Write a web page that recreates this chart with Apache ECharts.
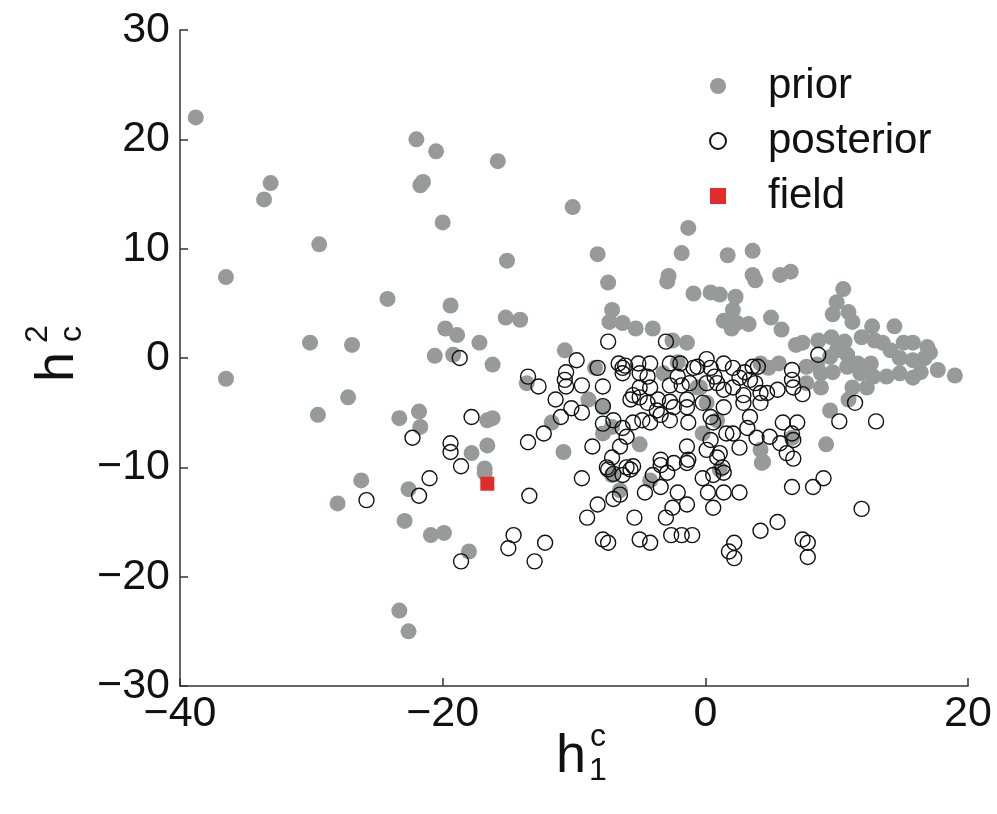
<!DOCTYPE html>
<html>
<head>
<meta charset="utf-8">
<script src="https://cdn.jsdelivr.net/npm/echarts@6/dist/echarts.min.js"></script>
<style>
  html, body { margin: 0; padding: 0; background: #fff; }
  #chart { width: 997px; height: 814px; }
</style>
</head>
<body>
<div id="chart"></div>
<script>
// prior samples (grey dots), [h1c, h2c]
const priorPoints = [
  [-38.8, 22.0], [-22.0, 20.0], [-20.5, 18.9], [-33.1, 16.0], [-33.6, 14.5],
  [-21.5, 16.1], [-21.7, 15.8], [-20.0, 12.4], [-29.4, 10.4], [-15.8, 18.0],
  [-10.1, 13.8], [-1.3, 11.9], [-15.1, 8.9], [-8.2, 9.5], [-1.8, 9.6],
  [-7.4, 6.9], [-2.8, 7.5], [-2.9, 7.0], [-0.9, 5.9], [0.4, 6.0],
  [1.7, 9.4], [3.6, 9.8], [3.6, 7.6], [3.8, 7.1], [5.7, 7.6],
  [6.5, 7.9], [1.1, 5.8], [2.3, 5.6], [2.1, 4.4], [10.5, 6.3],
  [10.0, 5.1], [9.7, 4.0], [10.9, 4.2], [11.2, 3.3], [1.4, 3.4],
  [2.0, 2.7], [3.3, 3.1], [2.4, 3.2], [5.0, 3.7], [5.8, 2.6],
  [7.4, 1.4], [8.6, 1.6], [9.6, 1.9], [10.6, 1.5], [10.0, 0.7],
  [10.8, 0.3], [9.5, 0.1], [11.9, 1.9], [12.7, 2.9], [14.4, 2.9],
  [12.9, 1.6], [13.5, 1.4], [14.1, 0.7], [15.1, 1.4], [15.8, 1.4],
  [16.9, 1.0], [14.8, 0.0], [15.8, -0.2], [16.7, 0.0], [17.1, 0.5],
  [17.7, -1.1], [19.0, -1.6], [7.7, -0.8], [8.5, -0.6], [8.8, -1.4],
  [9.7, -1.3], [10.8, -0.8], [11.6, -0.5], [12.6, -0.5], [11.8, -1.4],
  [12.8, -1.7], [13.8, -1.7], [14.8, -1.4], [15.8, -1.8], [16.4, -1.3],
  [8.8, -2.7], [7.7, -2.3], [11.2, -2.7], [12.3, -2.7], [10.9, -3.8],
  [9.5, -4.8], [9.2, -7.9], [4.2, -0.5], [5.6, -0.5], [4.8, -0.9],
  [-0.4, -2.7], [0.1, -4.1], [4.2, -8.4], [4.4, -9.5], [-36.5, 7.4],
  [-24.2, 5.4], [-19.4, 4.8], [-19.8, 2.7], [-30.1, 1.4], [-26.9, 1.2],
  [-20.6, 0.2], [-36.5, -1.9], [-27.2, -3.6], [-29.5, -5.2], [-23.3, -5.5],
  [-21.8, -4.9], [-21.7, -6.3], [-26.2, -11.2], [-28.0, -13.3], [-22.6, -12.0],
  [-22.9, -14.9], [-20.9, -16.2], [-19.9, -16.0], [-23.3, -23.1], [-22.6, -25.0],
  [-16.8, -10.5], [-18.0, -17.7], [-7.1, -10.7], [-6.5, -12.1], [-4.2, -11.2],
  [4.3, -9.6], [1.1, -10.2], [-15.2, 3.7], [-14.1, 3.5], [-7.1, 4.4],
  [-7.3, 3.3], [-6.3, 3.2], [-5.3, 2.7], [-4.0, 2.7], [-18.9, 2.1],
  [-17.2, 1.4], [-19.2, 0.3], [-16.2, -0.6], [-10.7, 0.7], [-2.5, 1.6],
  [-1.4, 1.4], [-8.4, -0.9], [-13.6, -2.3], [-8.9, -3.8], [-11.7, -5.9],
  [-10.8, -8.6], [-7.8, -4.5], [-3.2, -1.4], [-0.6, -2.7], [-7.8, -6.9],
  [-7.1, -6.3], [-5.0, -7.9], [-0.2, -6.9], [0.9, -5.7], [-16.6, -5.7],
  [-16.2, -5.5], [-17.8, -8.7], [-16.6, -8.0], [-16.8, -10.1], [-2.1, -0.4],
  [6.9, 1.2], [6.6, -7.3]
]

// posterior samples (open circles)
const posteriorPoints = [
  [-22.3, -7.3], [-19.4, -7.8], [-19.4, -8.6], [-21.0, -11.0], [-21.8, -12.6],
  [-25.8, -13.0], [-18.6, -9.9], [-13.4, -12.6], [-18.6, -18.6], [-14.6, -16.2],
  [-15.0, -17.4], [-12.2, -16.9], [-13.0, -18.6], [-9.4, -11.0], [-7.4, -10.2],
  [-7.0, -10.6], [-6.3, -10.7], [-5.7, -10.2], [-5.5, -9.9], [-8.2, -13.4],
  [-7.0, -12.9], [-6.5, -12.5], [-9.0, -14.6], [-5.4, -14.6], [-7.8, -16.6],
  [-7.4, -16.9], [-5.0, -16.6], [-4.2, -16.9], [-4.6, -12.3], [-4.0, -10.7],
  [-3.4, -11.8], [-2.9, -10.5], [-3.4, -9.8], [-2.1, -12.3], [-1.4, -13.4],
  [-2.5, -13.7], [-3.0, -14.6], [-2.6, -16.2], [-1.8, -16.2], [-1.0, -16.2],
  [-1.4, -9.6], [-0.2, -11.0], [0.6, -10.7], [0.2, -12.3], [0.6, -13.7],
  [9.0, -11.0], [8.2, -11.8], [6.6, -11.8], [11.9, -13.8], [5.5, -15.0],
  [4.2, -15.8], [2.2, -16.9], [1.8, -17.7], [2.2, -18.3], [7.4, -16.6],
  [7.8, -16.9], [7.8, -18.2], [1.4, -12.3], [2.6, -12.3], [1.4, -10.5],
  [-18.7, 0.0], [-7.4, 1.5], [-3.0, 1.5], [-9.8, -0.2], [-8.2, -0.9],
  [-10.6, -1.3], [-10.7, -2.0], [-10.6, -2.6], [-9.4, -2.5], [-13.5, -1.7],
  [-12.7, -2.6], [-11.4, -3.8], [-10.2, -4.6], [-9.4, -5.0], [-11.0, -5.4],
  [-12.3, -6.9], [-13.5, -7.7], [-7.8, -2.6], [-7.8, -4.4], [-6.6, -0.5],
  [-6.3, -0.9], [-6.1, -0.7], [-6.3, -1.4], [-5.1, -0.5], [-4.2, -0.5],
  [-5.0, -1.4], [-4.4, -1.7], [-5.0, -2.7], [-4.2, -2.7], [-2.7, -0.5],
  [-1.9, -0.5], [-2.1, -1.7], [-2.7, -2.5], [-1.8, -2.5], [0.1, -0.1],
  [-0.6, -0.8], [0.4, -0.9], [-5.7, -3.8], [-5.0, -3.6], [-4.4, -4.1],
  [-3.6, -3.8], [-2.7, -4.0], [-1.4, -3.8], [-0.2, -4.1], [-7.0, -5.7],
  [-6.3, -6.4], [-5.5, -5.9], [-4.8, -5.7], [-4.2, -5.9], [-6.0, -7.2],
  [-6.5, -8.1], [-8.6, -8.1], [-7.1, -9.1], [-7.5, -10.0], [-6.0, -10.0],
  [-3.4, -5.2], [-2.4, -4.5], [-1.4, -4.5], [-1.3, -5.9], [-1.4, -8.1],
  [-1.3, -9.3], [-2.4, -9.6], [-3.4, -9.3], [0.4, -5.4], [0.4, -7.5],
  [0.1, -8.4], [0.9, -9.1], [-17.8, -5.4], [8.6, 0.3], [11.4, -4.1],
  [10.2, -5.8], [13.0, -5.8], [1.4, -0.5], [2.1, -0.9], [3.0, -1.3],
  [3.6, -0.8], [4.0, -0.8], [0.1, -2.3], [0.9, -2.3], [1.4, -2.9],
  [2.1, -2.7], [2.6, -1.8], [3.4, -2.0], [3.8, -2.3], [4.2, -3.2],
  [2.9, -3.4], [4.7, -3.2], [5.5, -2.9], [6.6, -1.1], [6.6, -2.0],
  [6.7, -2.7], [7.4, -3.3], [1.4, -4.5], [2.9, -4.1], [4.2, -4.1],
  [3.4, -5.4], [0.6, -5.9], [1.6, -6.9], [2.1, -6.9], [3.2, -6.4],
  [2.6, -8.2], [3.9, -7.3], [4.9, -7.2], [5.9, -5.9], [7.0, -5.9],
  [6.6, -6.9], [6.7, -7.5], [5.7, -7.8], [6.2, -8.7], [6.7, -9.2],
  [1.1, -8.7], [1.3, -10.0], [-0.9, -0.9], [0.7, -1.7], [-1.2, -2.3],
  [-5.5, -3.4], [-3.7, -4.8], [-2.7, -5.7], [-7.8, -6.0]
]

// field observation (red square)
const fieldPoints = [[-16.6, -11.5]]

const seriesNames = ['prior', 'posterior', 'field']
const xRange = [-40, 20]
const yRange = [-30, 30]

const FONT = '"Liberation Sans", Arial, sans-serif'
const minus = v => String(v).replace('-', '\u2212')

const chart = echarts.init(document.getElementById('chart'))

const axisCommon = {
  axisLine: { show: true, onZero: false, lineStyle: { color: '#333', width: 1.5 } },
  axisTick: { show: true, inside: true, length: 8, lineStyle: { color: '#333', width: 1.5 } },
  splitLine: { show: false },
  axisLabel: {
    color: '#111',
    fontSize: 43,
    fontFamily: FONT,
    formatter: minus,
  },
}

chart.setOption({
  animation: false,
  backgroundColor: '#fff',
  grid: { left: 180, right: 29, top: 30, bottom: 128 },
  xAxis: Object.assign({}, axisCommon, {
    type: 'value',
    min: xRange[0],
    max: xRange[1],
    interval: 20,
    axisLabel: Object.assign({}, axisCommon.axisLabel, { margin: 7 }),
  }),
  yAxis: Object.assign({}, axisCommon, {
    type: 'value',
    min: yRange[0],
    max: yRange[1],
    interval: 10,
    axisLabel: Object.assign({}, axisCommon.axisLabel, { margin: 10 }),
  }),
  legend: {
    orient: 'vertical',
    left: 704,
    top: 60,
    itemWidth: 16,
    itemHeight: 16,
    itemGap: 13,
    data: seriesNames,
    textStyle: {
      fontSize: 42,
      fontFamily: FONT,
      color: '#111',
      padding: [0, 0, 0, 37],
    },
  },
  series: [
    {
      name: seriesNames[0],
      type: 'scatter',
      symbol: 'circle',
      symbolSize: 16,
      itemStyle: { color: '#989a9a', opacity: 1 },
      data: priorPoints,
      z: 2,
    },
    {
      name: seriesNames[1],
      type: 'scatter',
      symbol: 'circle',
      symbolSize: 15,
      itemStyle: { color: 'rgba(0,0,0,0)', borderColor: '#111', borderWidth: 1.4, opacity: 1 },
      data: posteriorPoints,
      z: 3,
    },
    {
      name: seriesNames[2],
      type: 'scatter',
      symbol: 'rect',
      symbolSize: 14,
      itemStyle: { color: '#e32b2b', opacity: 1 },
      data: fieldPoints,
      z: 4,
    },
  ],
  graphic: [
    {
      type: 'group',
      x: 556,
      y: 757,
      children: [
        { type: 'text', x: 0, y: 0, style: { text: 'h', font: '54px ' + FONT, fill: '#111', verticalAlign: 'middle' } },
        { type: 'text', x: 42, y: -20, style: { text: 'c', font: '32px ' + FONT, fill: '#111', align: 'center', verticalAlign: 'middle' } },
        { type: 'text', x: 42, y: 14, style: { text: '1', font: '32px ' + FONT, fill: '#111', align: 'center', verticalAlign: 'middle' } },
      ],
    },
    {
      type: 'group',
      x: 58,
      y: 382,
      rotation: Math.PI / 2,
      children: [
        { type: 'text', x: 0, y: 0, style: { text: 'h', font: '54px ' + FONT, fill: '#111', verticalAlign: 'middle' } },
        { type: 'text', x: 48, y: -20, style: { text: '2', font: '32px ' + FONT, fill: '#111', align: 'center', verticalAlign: 'middle' } },
        { type: 'text', x: 48, y: 14, style: { text: 'c', font: '32px ' + FONT, fill: '#111', align: 'center', verticalAlign: 'middle' } },
      ],
    },
  ],
})
</script>
</body>
</html>
